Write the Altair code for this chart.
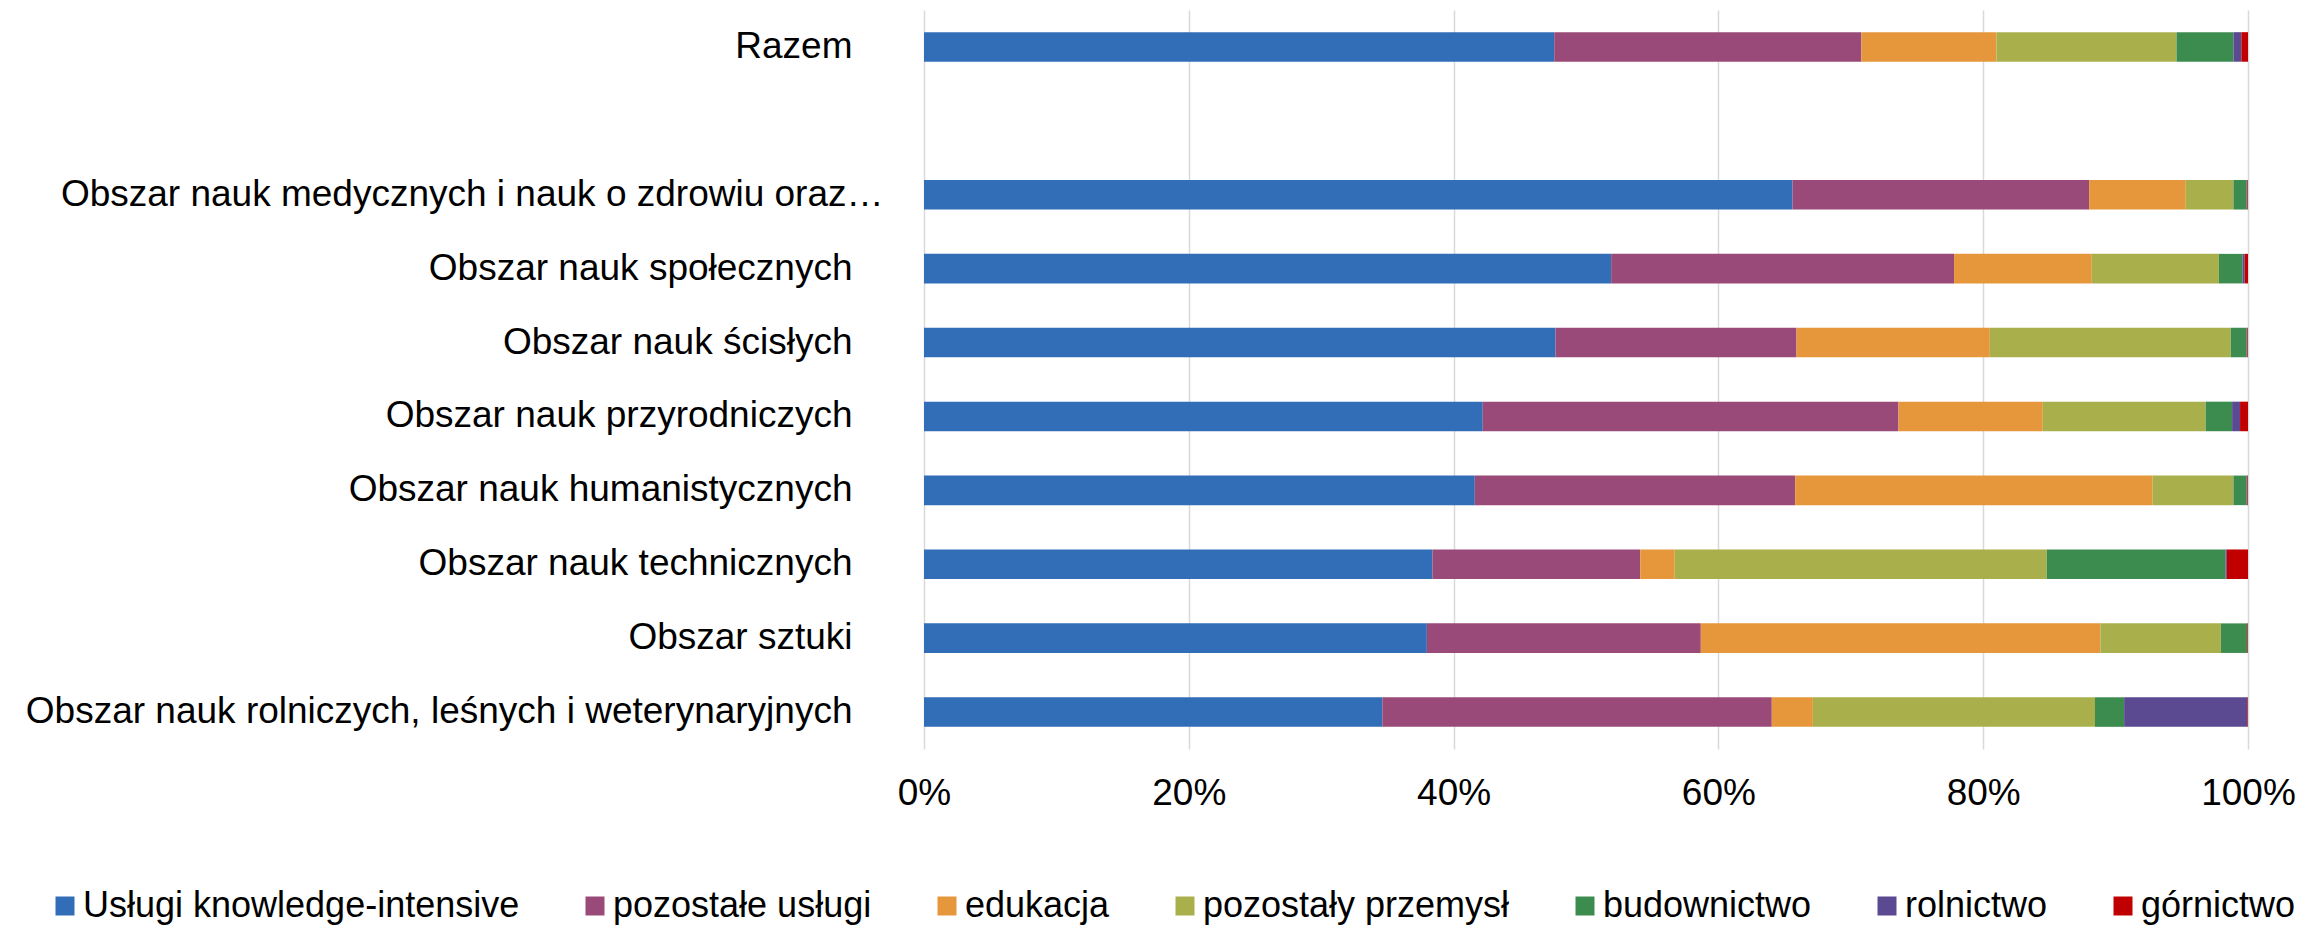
import altair as alt
import pandas as pd

# Category axis (top to bottom); " " is the empty gap row
categories = [
    "Razem",
    " ",
    "Obszar nauk medycznych i nauk o zdrowiu oraz…",
    "Obszar nauk społecznych",
    "Obszar nauk ścisłych",
    "Obszar nauk przyrodniczych",
    "Obszar nauk humanistycznych",
    "Obszar nauk technicznych",
    "Obszar sztuki",
    "Obszar nauk rolniczych, leśnych i weterynaryjnych",
]
bar_categories = [c for c in categories if c.strip()]

series = [
    "Usługi knowledge-intensive",
    "pozostałe usługi",
    "edukacja",
    "pozostały przemysł",
    "budownictwo",
    "rolnictwo",
    "górnictwo",
]
colors = ["#326EB8", "#9A4A78", "#E6973B", "#A9B04B", "#3D8C4F", "#5B4A92", "#C00000"]

# Shares (%) in the order of bar_categories
uslugi_ki = [47.6, 65.6, 51.9, 47.7, 42.2, 41.6, 38.4, 38.0, 34.6]
pozostale_uslugi = [23.2, 22.4, 25.9, 18.2, 31.4, 24.2, 15.7, 20.7, 29.4]
edukacja = [10.2, 7.3, 10.4, 14.6, 10.9, 27.0, 2.6, 30.2, 3.1]
pozostaly_przemysl = [13.6, 3.6, 9.6, 18.2, 12.3, 6.1, 28.1, 9.1, 21.3]
budownictwo = [4.3, 1.0, 1.8, 1.2, 2.0, 1.0, 13.5, 2.0, 2.2]
rolnictwo = [0.6, 0.05, 0.15, 0.05, 0.6, 0.05, 0.1, 0.0, 9.3]
gornictwo = [0.5, 0.05, 0.25, 0.05, 0.6, 0.05, 1.6, 0.05, 0.05]

values = [uslugi_ki, pozostale_uslugi, edukacja, pozostaly_przemysl,
          budownictwo, rolnictwo, gornictwo]

rows = []
for i, cat in enumerate(bar_categories):
    for j, s in enumerate(series):
        rows.append({"kategoria": cat, "seria": s, "wartosc": values[j][i], "kolejnosc": j})
df = pd.DataFrame(rows)

FONT = "Liberation Sans"
long_label = categories[2]

chart = alt.Chart(df).mark_bar().encode(
    y=alt.Y(
        "kategoria:N",
        sort=categories,
        scale=alt.Scale(domain=categories, paddingInner=0.6, paddingOuter=0.3),
        axis=alt.Axis(
            title=None, ticks=False, domain=False, labelFontSize=37,
            labelPadding={"condition": {"test": f"datum.value === '{long_label}'", "value": 41},
                          "value": 72},
            labelLimit=1500, labelColor="black", labelFont=FONT,
        ),
    ),
    x=alt.X(
        "wartosc:Q",
        stack="normalize",
        axis=alt.Axis(
            title=None, format=".0%", values=[0, 0.2, 0.4, 0.6, 0.8, 1.0],
            grid=True, gridColor="#d9d9d9", gridWidth=1.5, domain=False, ticks=False,
            labelPadding=26, labelFontSize=37, labelColor="black", labelFont=FONT,
            labelFlush=False,
        ),
    ),
    color=alt.Color(
        "seria:N",
        scale=alt.Scale(domain=series, range=colors),
        legend=alt.Legend(
            title=None, orient="none", direction="horizontal", columns=7,
            legendX=-877, legendY=878, symbolType="square", symbolSize=361,
            symbolStrokeWidth=0, labelFontSize=36, labelFont=FONT, labelColor="black",
            labelOffset=0, columnPadding=57, labelLimit=1000, padding=0,
        ),
    ),
    order=alt.Order("kolejnosc:Q"),
).properties(
    width=1324,
    height=739,
    autosize=alt.AutoSizeParams(type="none"),
    padding={"left": 916, "top": 2, "right": 55, "bottom": 176},
).configure_view(stroke=None)

chart.save("out.html", embed_options={"renderer": "svg", "actions": False})
